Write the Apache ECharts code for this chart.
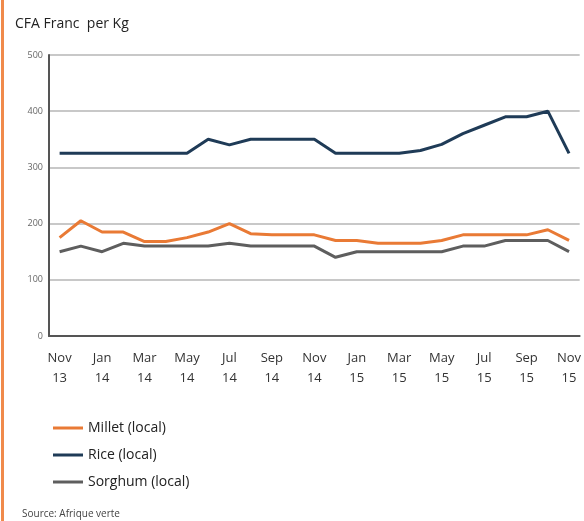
<!DOCTYPE html>
<html>
<head>
<meta charset="utf-8">
<script src="https://cdn.jsdelivr.net/npm/echarts@6/dist/echarts.min.js"></script>
<style>
  html, body { margin: 0; padding: 0; background: #fff; }
  #chart { width: 584px; height: 521px; }
</style>
</head>
<body>
<div id="chart"></div>
<script>
// monthly, Nov 2013 .. Nov 2015
const months = ['Nov', 'Dec', 'Jan', 'Feb', 'Mar', 'Apr', 'May', 'Jun', 'Jul', 'Aug', 'Sep', 'Oct',
  'Nov', 'Dec', 'Jan', 'Feb', 'Mar', 'Apr', 'May', 'Jun', 'Jul', 'Aug', 'Sep', 'Oct', 'Nov']
const years = ['13', '13', '14', '14', '14', '14', '14', '14', '14', '14', '14', '14',
  '14', '14', '15', '15', '15', '15', '15', '15', '15', '15', '15', '15', '15']
const millet = [175, 205, 185, 185, 168, 168, 175, 185, 200, 182, 180, 180,
  180, 170, 170, 165, 165, 165, 170, 180, 180, 180, 180, 189, 170]
const rice = [325, 325, 325, 325, 325, 325, 325, 350, 340, 350, 350, 350,
  350, 325, 325, 325, 325, 330, 341, 360, 375, 390, 390, 400, 325]
const sorghum = [150, 160, 150, 165, 160, 160, 160, 160, 165, 160, 160, 160,
  160, 140, 150, 150, 150, 150, 150, 160, 160, 170, 170, 170, 150]

const categories = months.map((m, i) => m + '\n' + years[i])

const chart = echarts.init(document.getElementById('chart'))

function line(name, data, color) {
  return {
    name: name,
    type: 'line',
    data: data,
    symbol: 'none',
    lineStyle: { color: color, width: 3 },
    itemStyle: { color: color }
  }
}

chart.setOption({
  animation: false,
  textStyle: { fontFamily: 'Open Sans' },
  title: {
    text: 'CFA Franc  per Kg',
    left: 10,
    top: 12,
    textStyle: { fontSize: 14, fontWeight: 'normal', color: '#222', fontFamily: 'Open Sans' }
  },
  graphic: [{
    type: 'rect',
    shape: { x: 1, y: 0, width: 3, height: 521 },
    style: { fill: '#f08a4b' }
  }, {
    type: 'text',
    left: 22,
    top: 509,
    style: { text: 'Source: Afrique verte', fontSize: 10, fill: '#444', fontFamily: 'Open Sans' }
  }],
  grid: {
    left: 49,
    right: 0,
    top: 55,
    bottom: 185
  },
  legend: {
    orient: 'vertical',
    left: 48,
    top: 416,
    itemGap: 13,
    itemWidth: 30,
    itemHeight: 3,
    icon: 'rect',
    data: ['Millet (local)', 'Rice (local)', 'Sorghum (local)'],
    textStyle: { fontSize: 14, color: '#222', fontFamily: 'Open Sans' }
  },
  xAxis: {
    type: 'category',
    data: categories,
    boundaryGap: true,
    axisLine: { lineStyle: { color: '#555', width: 2 } },
    axisTick: { interval: 0, alignWithLabel: true, length: 6, lineStyle: { color: '#333', width: 1.5 } },
    axisLabel: { interval: 1, color: '#333', fontSize: 13, lineHeight: 20, margin: 12 }
  },
  yAxis: {
    type: 'value',
    min: 0,
    max: 500,
    interval: 100,
    axisLine: { show: true, lineStyle: { color: '#555', width: 2 } },
    axisTick: { show: false },
    axisLabel: { color: '#666', fontSize: 9, margin: 6 },
    splitLine: { lineStyle: { color: '#c8c8c8', width: 2 } }
  },
  series: [
    line('Millet (local)', millet, '#e97a35'),
    line('Rice (local)', rice, '#1f3b57'),
    line('Sorghum (local)', sorghum, '#5e5e5e')
  ]
})
</script>
</body>
</html>
